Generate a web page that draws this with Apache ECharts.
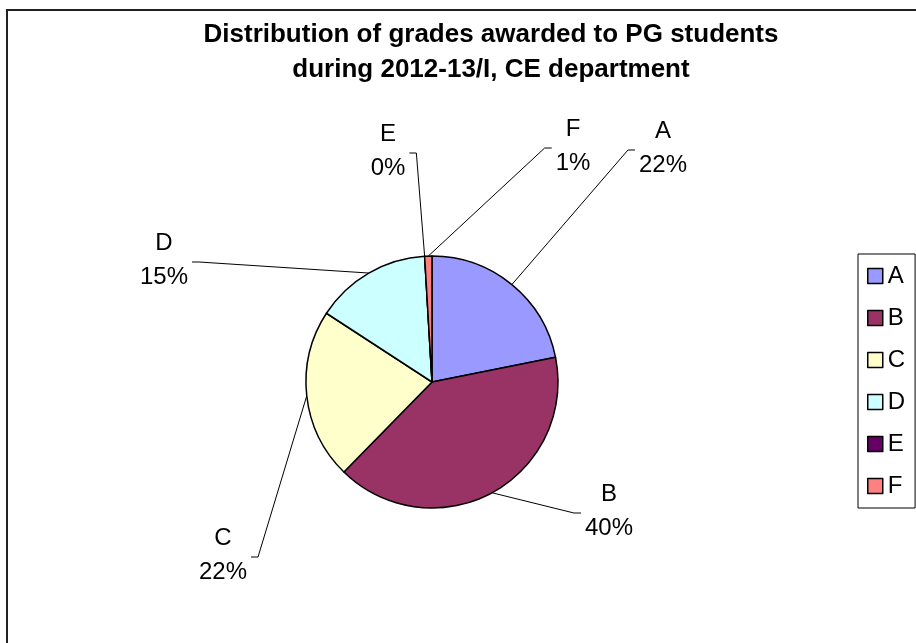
<!DOCTYPE html>
<html>
<head>
<meta charset="utf-8">
<script src="https://cdn.jsdelivr.net/npm/echarts@6/dist/echarts.min.js"></script>
<style>
  html, body { margin: 0; background: #fff; }
  #main { width: 916px; height: 643px; }
</style>
</head>
<body>
<div id="main"></div>
<script>
// grade counts
const grades = ['A', 'B', 'C', 'D', 'E', 'F']
const counts = [47, 87, 47, 32, 0, 2]
const colors = ['#9999FF', '#993366', '#FFFFCC', '#CCFFFF', '#660066', '#FF8080']

// where the old Excel chart put each label (centre of the text block)
const labelSpots = [[663, 148], [609, 511], [223, 555], [164, 260], [388, 151], [573, 146]]

const font = '"Liberation Sans", Arial, sans-serif'
const chart = echarts.init(document.getElementById('main'))

const option = {
  animation: false,
  title: {
    text: 'Distribution of grades awarded to PG students\nduring 2012-13/I, CE department',
    left: 491,
    top: 17,
    textAlign: 'center',
    padding: 0,
    textStyle: { fontFamily: font, fontWeight: 'bold', fontSize: 26, lineHeight: 35, color: '#000' }
  },
  legend: {
    orient: 'vertical',
    left: 858,
    top: 254,
    padding: [8, 10, 8, 9],
    borderColor: '#000',
    borderWidth: 1,
    itemWidth: 15,
    itemHeight: 15,
    itemGap: 14,
    icon: 'rect',
    itemStyle: { borderColor: '#000', borderWidth: 1.5 },
    textStyle: { fontFamily: font, fontSize: 24, lineHeight: 28, color: '#000' },
    data: grades
  },
  // chart-area frame, runs off the right and bottom edges
  graphic: [{
    type: 'rect',
    silent: true,
    shape: { x: 7, y: 10, width: 1200, height: 1200 },
    style: { fill: 'none', stroke: '#222', lineWidth: 2 }
  }],
  series: [{
    type: 'pie',
    center: [432, 382],
    radius: 126,
    startAngle: 90,
    clockwise: true,
    avoidLabelOverlap: false,
    percentPrecision: 0,
    data: grades.map((g, i) => ({ name: g, value: counts[i], itemStyle: { color: colors[i] } })),
    itemStyle: { borderColor: '#000', borderWidth: 1.5 },
    label: { formatter: '{b}\n{d}%', fontFamily: font, fontSize: 24, lineHeight: 34, color: '#000' },
    labelLine: { show: true, lineStyle: { color: '#000', width: 1 } },
    labelLayout: function (p) {
      const [x, y] = labelSpots[p.dataIndex]
      const arc = p.labelLinePoints ? p.labelLinePoints[0] : [x, y]
      const side = x < arc[0] ? -1 : 1
      const edge = x - side * (p.labelRect.width / 2 + 4)
      const ly = y + 2
      return {
        x: x,
        y: y,
        align: 'center',
        verticalAlign: 'middle',
        labelLinePoints: [arc, [edge - side * 7, ly], [edge, ly]]
      }
    }
  }]
}

chart.setOption(option)
</script>
</body>
</html>
